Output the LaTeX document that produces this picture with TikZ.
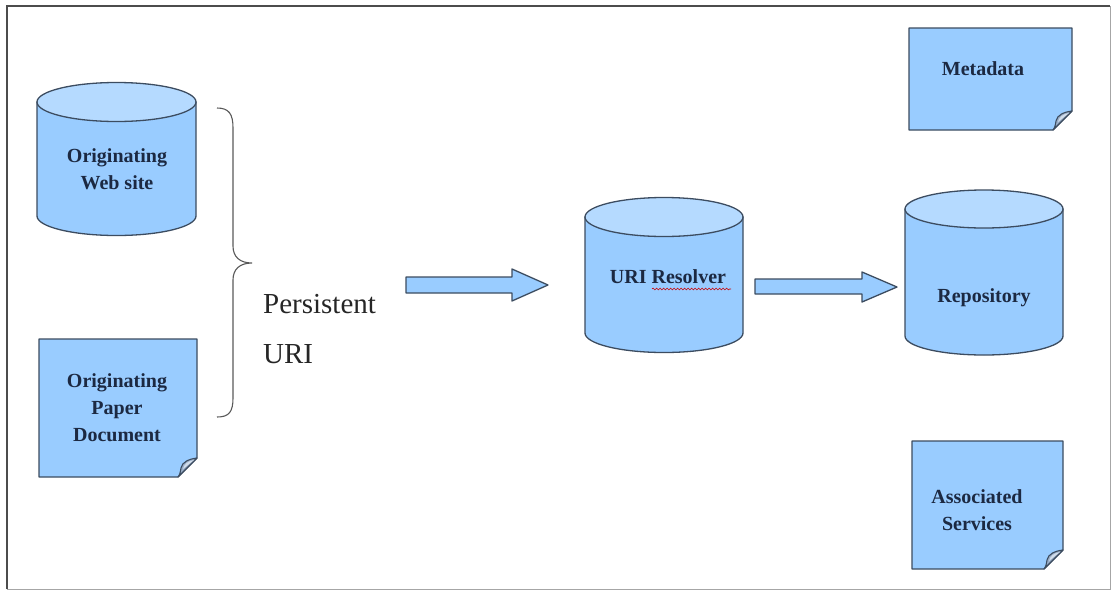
\documentclass[tikz,border=0pt]{standalone}
\usepackage{fontspec}
\setmainfont{Liberation Serif}
\usetikzlibrary{decorations.pathmorphing}

\definecolor{boxfill}{HTML}{99CCFF}
\definecolor{topfill}{HTML}{B5DAFF}
\definecolor{edge}{HTML}{3C4C60}
\definecolor{ink}{HTML}{1C2942}
\definecolor{foldfill}{HTML}{9AAEC8}
\definecolor{foldlite}{HTML}{D2DDEA}

\tikzset{
  shape edge/.style={draw=edge,line width=1.3pt,line join=round},
  label text/.style={font=\fontsize{20}{27}\selectfont\bfseries,text=ink,align=center,inner sep=0pt},
  plain text/.style={font=\fontsize{29}{50}\selectfont,text=black!85,align=left,inner sep=0pt,anchor=base west},
  block arrow/.style={shape edge,fill=boxfill},
}

% drum(x1,x2,top centre y,bottom centre y,ry): a storage cylinder
\newcommand\drum[5]{%
  \filldraw[shape edge,fill=boxfill] (#1,-#3) -- (#1,-#4)
    arc[start angle=180,end angle=360,x radius={(#2-#1)/2},y radius=#5] -- (#2,-#3) -- cycle;
  \filldraw[shape edge,fill=topfill] ({(#1+#2)/2},-#3) ellipse[x radius={(#2-#1)/2},y radius=#5];
}

% docnote(x1,y1,x2,y2): a sheet with its lower right corner curled up
\newcommand\docnote[4]{%
  \filldraw[shape edge,fill=boxfill] (#1,-#2) -- (#3,-#2) -- (#3,{-(#4-19)}) -- ({#3-19},-#4) -- (#1,-#4) -- cycle;
  \filldraw[draw=edge,line width=1.1pt,line join=round,fill=foldfill] (#3,{-(#4-19)})
    .. controls ({#3-8},{-(#4-18)}) and ({#3-15},{-(#4-15)}) .. ({#3-16},{-(#4-9)})
    .. controls ({#3-16.5},{-(#4-5)}) and ({#3-17.5},{-(#4-1.5)}) .. ({#3-19},-#4) -- cycle;
  \fill[foldlite] ({#3-3},{-(#4-17)}) .. controls ({#3-9},{-(#4-16)}) and ({#3-13},{-(#4-13)}) .. ({#3-14},{-(#4-8)}) -- cycle;
}

\begin{document}
\begin{tikzpicture}[x=1pt,y=1pt]
  \useasboundingbox (0,0) rectangle (1116,-592);

  % page frame
  \draw[black!35,line width=0.8pt] (1110,-6) -- (1110,-589) -- (7,-589);
  \draw[black!70,line width=1.6pt] (7,-589) -- (7,-6) -- (1110,-6);

  % originating sources
  \drum{37}{196}{102}{216}{19.5}
  \node[label text] (web) at (117,-169) {Originating\\Web site};
  \docnote{39}{339}{197}{477}
  \node[label text] (paper) at (117,-408) {Originating\\Paper\\Document};

  % brace grouping both sources
  \draw[black!65,line width=1.1pt] (217,-108)
    .. controls (229,-108) and (233,-114) .. (233,-128) -- (233,-246)
    .. controls (233,-257) and (240,-263) .. (252,-263)
    .. controls (240,-263) and (233,-269) .. (233,-280) -- (233,-398)
    .. controls (233,-412) and (229,-417) .. (217,-417);
  \coordinate (bracetip) at (252,-263);

  \node[plain text] (puri) at (263,-313) {Persistent};
  \node[plain text] (uri) at (263,-363) {URI};

  % resolver
  \drum{585}{743}{217}{333}{19.5}
  \node[label text] (resolver) at (668,-277) {URI Resolver};
  \draw[red!80!black,line width=0.6pt,decorate,decoration={snake,amplitude=0.9pt,segment length=3.5pt}]
    (652,-289) -- (731,-289);

  % block arrows
  \filldraw[block arrow] (406,-277) -- (512,-277) -- (512,-269) -- (548,-285)
    -- (512,-301) -- (512,-293) -- (406,-293) -- cycle;
  \filldraw[block arrow] (755,-279) -- (862,-279) -- (862,-272) -- (897,-287)
    -- (862,-302) -- (862,-294) -- (755,-294) -- cycle;

  % repository side
  \drum{905}{1063}{209}{336}{19}
  \node[label text] (repo) at (984,-298) {Repository};
  \docnote{909}{28}{1072}{130}
  \node[label text] (meta) at (983,-69) {Metadata};
  \docnote{912}{441}{1063}{569}
  \node[label text] (assoc) at (977,-510) {Associated\\Services};
\end{tikzpicture}
\end{document}
